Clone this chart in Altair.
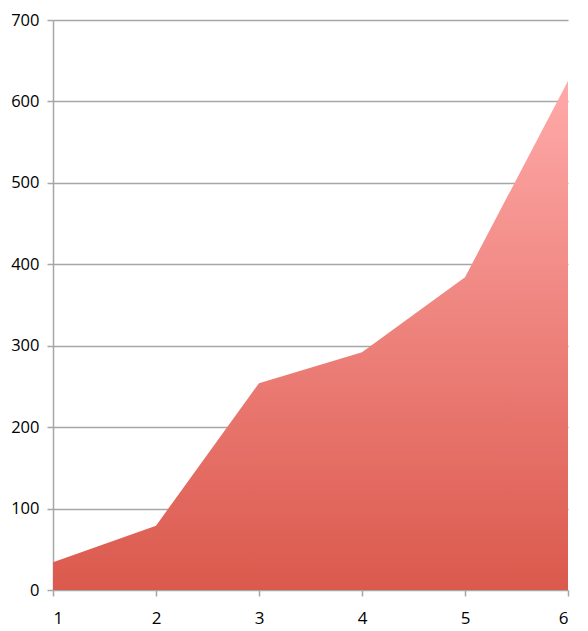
import altair as alt
import pandas as pd

xs = [1, 2, 3, 4, 5, 6]
values = [34, 79, 254, 292, 384, 625]

df = pd.DataFrame({"x": xs, "v": values})

grid_color = "#A6A6A6"
font = "Open Sans"

chart = alt.Chart(df).mark_area(
    color=alt.Gradient(
        gradient="linear",
        x1=0, x2=0, y1=0, y2=1,
        stops=[
            alt.GradientStop(color="#FFAAA9", offset=0),
            alt.GradientStop(color="#DB594D", offset=1),
        ],
    ),
    interpolate="linear",
).encode(
    x=alt.X("x:Q", scale=alt.Scale(domain=[1, 6], nice=False, zero=False),
            axis=alt.Axis(values=xs, format="d", title=None, grid=False,
                          domain=False, tickColor=grid_color, tickSize=6, tickWidth=1.5,
                          labelFont=font, labelFontSize=17, labelColor="#000000",
                          labelPadding=14)),
    y=alt.Y("v:Q", scale=alt.Scale(domain=[0, 700], nice=False),
            axis=alt.Axis(values=[0, 100, 200, 300, 400, 500, 600, 700], title=None,
                          grid=True, gridColor=grid_color, gridWidth=1.5,
                          domainColor=grid_color, domainWidth=1.5,
                          tickColor=grid_color, tickSize=6, tickWidth=1.5,
                          labelFont=font, labelFontSize=16.5, labelColor="#000000",
                          labelPadding=8)),
).properties(
    width=515,
    height=570,
    autosize=alt.AutoSizeParams(type="none"),
    padding={"left": 45, "top": 12, "right": 12, "bottom": 40},
).configure_view(stroke=None)

chart.save("out.html", embed_options={"renderer": "svg", "actions": False})
